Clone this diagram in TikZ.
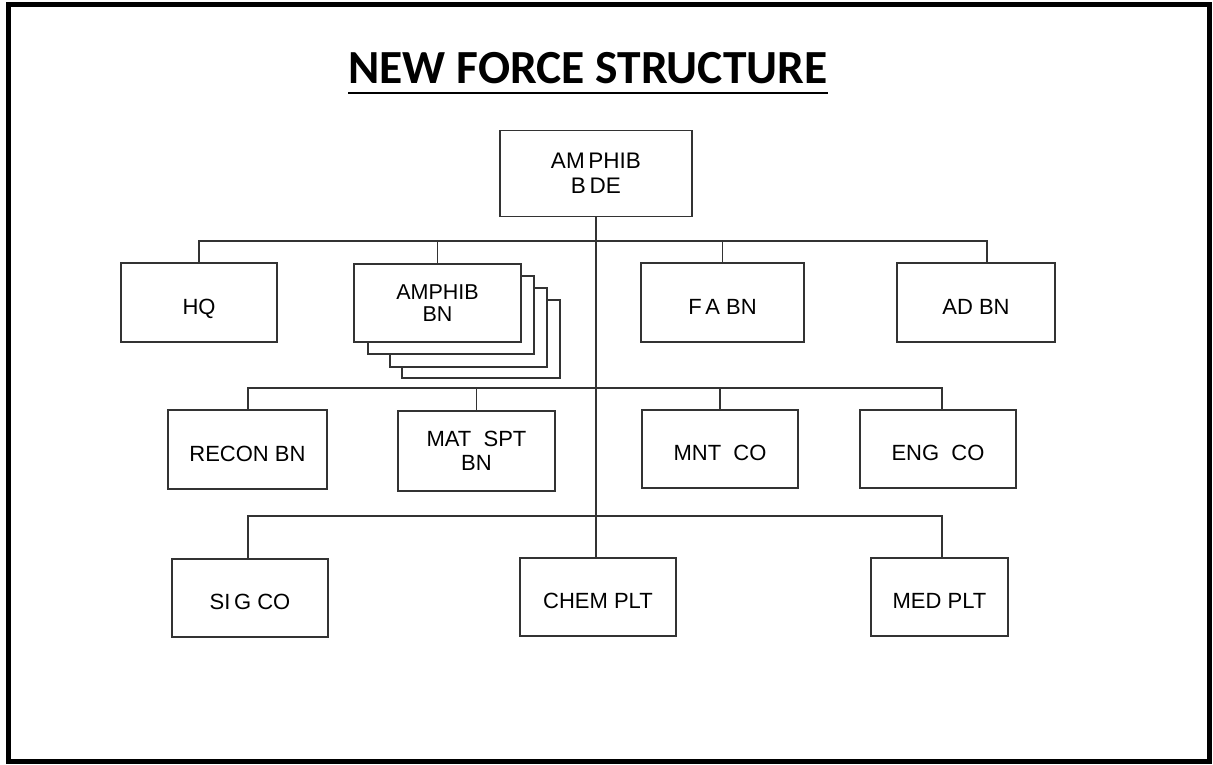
\documentclass[tikz,border=0pt]{standalone}
\usepackage{fontspec}
\setmainfont{Liberation Sans}
\newfontfamily\titlefont{Carlito}
\usetikzlibrary{calc}
\begin{document}
\begin{tikzpicture}[x=1pt,y=-1pt,
  unit/.style={draw=black!80, line width=1.8pt, fill=white, inner sep=0pt,
    align=center, font=\fontsize{22}{24}\selectfont},
  single/.style={unit, text height=23pt, text depth=0pt},
  link/.style={draw=black!80, line width=1.6pt}]
\useasboundingbox (0,0) rectangle (1213,765);
\draw[line width=5pt] (8,5) rectangle (1209,761.5);
% title
\node[inner sep=0pt, anchor=base, font=\titlefont\bfseries\fontsize{47.5}{50}\selectfont] (title) at (588,84) {NEW FORCE STRUCTURE};
\coordinate (ulL) at (348,93);
\coordinate (ulR) at (828,93);
\draw[line width=2.6pt] (ulL) -- (ulR);
% boxes
\node[unit, minimum width=192pt, minimum height=86pt, font=\fontsize{22.5}{25}\selectfont] (bde) at (596,173.5) {AM\,PHIB\\B\,DE};
\node[single, minimum width=156pt, minimum height=79pt] (hq) at (199,302.5) {HQ};
\node[unit, minimum width=158pt, minimum height=78pt] (bn4) at (481,339) {};
\node[unit, minimum width=157pt, minimum height=79pt] (bn3) at (468.5,327.5) {};
\node[unit, minimum width=166pt, minimum height=78pt] (bn2) at (451,315) {};
\node[unit, minimum width=167pt, minimum height=78pt, font=\fontsize{21.5}{22}\selectfont] (bn) at (437.5,303) {AMPHIB\\BN};
\node[single, minimum width=163pt, minimum height=79pt] (fa) at (722.5,302.5) {F\,A BN};
\node[single, minimum width=158pt, minimum height=79pt] (ad) at (976,302.5) {AD BN};
\node[single, minimum width=159pt, minimum height=79pt] (recon) at (247.5,449.5) {RECON BN};
\node[unit, minimum width=157pt, minimum height=80pt, font=\fontsize{22}{23.5}\selectfont] (mat) at (476.5,451) {MAT\ \ SPT\\BN};
\node[single, minimum width=156pt, minimum height=78pt] (mnt) at (720,449) {MNT\ \ CO};
\node[single, minimum width=156pt, minimum height=78pt] (eng) at (938,449) {ENG\ \ CO};
\node[single, minimum width=156pt, minimum height=78pt] (sig) at (250,598) {SI\,G CO};
\node[single, minimum width=156pt, minimum height=78pt] (chem) at (598,597) {CHEM PLT};
\node[single, minimum width=137pt, minimum height=78pt] (med) at (939.5,597) {MED PLT};
% buses
\coordinate (b1l) at (199,241);
\coordinate (b1r) at (987,241);
\coordinate (b2l) at (248,388);
\coordinate (b2r) at (942,388);
\coordinate (b3l) at (248,516);
\coordinate (b3r) at (942,516);
% connectors
\draw[link] (bde.south) -- (bde.south |- chem.north);
\draw[link] (hq.north) -- (b1l) -- (b1r) -- (b1r |- ad.north);
\draw[link] (bn.north) -- (bn.north |- b1l);
\draw[link] (fa.north) -- (fa.north |- b1l);
\draw[link] (b2l |- recon.north) -- (b2l) -- (b2r) -- (b2r |- eng.north);
\draw[link] (mat.north) -- (mat.north |- b2l);
\draw[link] (mnt.north) -- (mnt.north |- b2l);
\draw[link] (b3l |- sig.north) -- (b3l) -- (b3r) -- (b3r |- med.north);
\end{tikzpicture}
\end{document}
